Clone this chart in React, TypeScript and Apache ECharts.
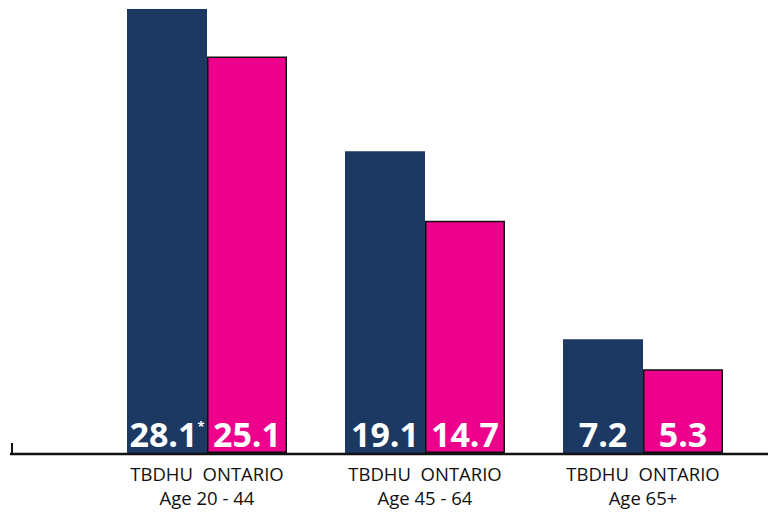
import React, { useEffect, useRef } from "react";
import * as echarts from "echarts";

const categories = ["Age 20 - 44", "Age 45 - 64", "Age 65+"];
const tbdhuValues = [28.1, 19.1, 7.2];
const ontarioValues = [25.1, 14.7, 5.3];
const tbdhuLabels = ["28.1", "19.1", "7.2"];
const tbdhuFlags = ["*", "", ""];
const ontarioLabels = ["25.1", "14.7", "5.3"];

export default function App() {
  const ref = useRef<HTMLDivElement>(null);
  useEffect(() => {
    if (!ref.current) return;
    const chart = echarts.init(ref.current, null, { renderer: "svg" });
    const labelFont = "'Open Sans', 'DejaVu Sans', sans-serif";
    chart.setOption({
      animation: false,
      backgroundColor: "#ffffff",
      grid: { left: 98, right: 16, top: 9, bottom: 63, containLabel: false },
      xAxis: {
        type: "category",
        data: categories,
        axisLine: { show: false },
        axisTick: { show: false },
        axisLabel: {
          interval: 0,
          hideOverlap: false,
          margin: 8,
          color: "#111111",
          fontFamily: labelFont,
          fontSize: 18.5,
          lineHeight: 24,
          formatter: (v: string) => "TBDHU  ONTARIO\n" + v,
        },
      },
      yAxis: {
        type: "value",
        min: 0,
        max: 28.1,
        show: false,
        splitLine: { show: false },
      },
      series: [
        {
          name: "TBDHU",
          type: "bar",
          barWidth: 80,
          barGap: "0%",
          data: tbdhuValues,
          itemStyle: { color: "#1b3963" },
          label: {
            show: true,
            position: "insideBottom",
            distance: -1,
            formatter: (p: any) =>
              "{v|" + tbdhuLabels[p.dataIndex] + "}" +
              (tbdhuFlags[p.dataIndex] ? "{s|" + tbdhuFlags[p.dataIndex] + "}" : ""),
            rich: {
              v: {
                color: "#ffffff",
                fontFamily: labelFont,
                fontWeight: "bold",
                fontSize: 34,
                lineHeight: 40,
              },
              s: {
                color: "#ffffff",
                fontFamily: labelFont,
                fontWeight: "bold",
                fontSize: 13,
                verticalAlign: "top",
                lineHeight: 40,
                padding: [5, 0, 0, 0],
              },
            },
          },
        },
        {
          name: "ONTARIO",
          type: "bar",
          barWidth: 80,
          data: ontarioValues,
          itemStyle: { color: "#ec008c", borderColor: "#111111", borderWidth: 1.5 },
          label: {
            show: true,
            position: "insideBottom",
            distance: -1,
            color: "#ffffff",
            fontFamily: labelFont,
            fontWeight: "bold",
            fontSize: 34,
            lineHeight: 40,
            formatter: (p: any) => ontarioLabels[p.dataIndex],
          },
        },
      ],
      graphic: [
        {
          type: "line",
          shape: { x1: 10, y1: 454, x2: 768, y2: 454 },
          style: { stroke: "#111111", lineWidth: 2.5 },
          z: 100,
        },
        {
          type: "line",
          shape: { x1: 12, y1: 443, x2: 12, y2: 455 },
          style: { stroke: "#111111", lineWidth: 2 },
          z: 100,
        },
      ],
    });
    return () => chart.dispose();
  }, []);
  return <div ref={ref} style={{ width: 768, height: 516, position: "absolute", left: 0, top: 0 }} />;
}
